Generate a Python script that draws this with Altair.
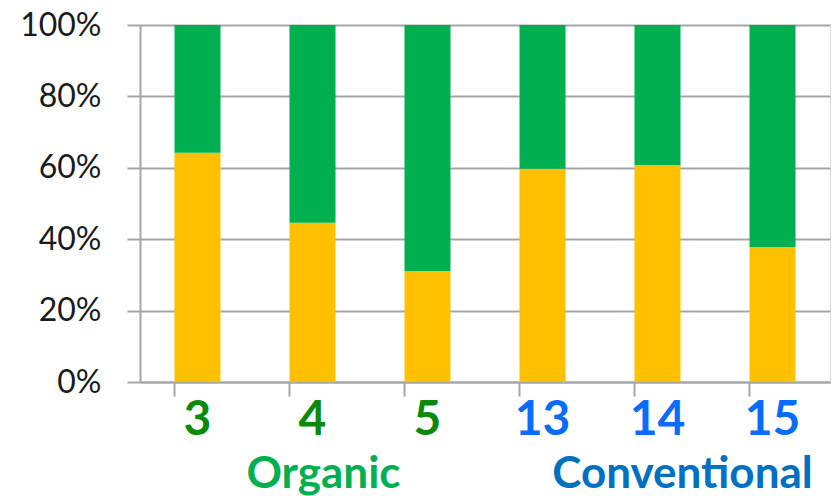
import altair as alt
import pandas as pd

samples = ["3", "4", "5", "13", "14", "15"]
orange_share = [64.2, 44.6, 31.1, 59.7, 60.8, 37.8]
green_share = [35.8, 55.4, 68.9, 40.3, 39.2, 62.2]
groups = ["Organic", "Conventional"]
group_anchor = ["4", "14"]
group_colors = ["#00B050", "#0070C0"]

rows = []
for s, o, g in zip(samples, orange_share, green_share):
    rows.append({"sample": s, "part": "a", "value": o})
    rows.append({"sample": s, "part": "b", "value": g})
df = pd.DataFrame(rows)

grid = "#A6A6A6"
font = "Lato"

xscale = alt.Scale(domain=samples, paddingInner=0.6, paddingOuter=0.3)

bars = alt.Chart(df).mark_bar().encode(
    x=alt.X("sample:N", scale=xscale, sort=samples, title=None,
            axis=alt.Axis(labelAngle=0, labelFont=font, labelFontSize=48,
                          labelFontWeight="bold",
                          labelColor={"condition": {"test": "indexof(['3','4','5'], datum.value) >= 0",
                                                    "value": "#0A8A0A"},
                                      "value": "#0A6CFF"},
                          tickSize=14, tickColor=grid, tickWidth=2,
                          domainColor=grid, domainWidth=2, labelPadding=0,
                          bandPosition=0, grid=False)),
    y=alt.Y("value:Q", stack="normalize", title=None,
            scale=alt.Scale(domain=[0, 1]),
            axis=alt.Axis(format="%", values=[0, 0.2, 0.4, 0.6, 0.8, 1.0],
                          labelFont=font, labelFontSize=32, labelColor="#1a1a1a",
                          tickSize=13, tickColor=grid, tickWidth=2,
                          domainColor=grid, domainWidth=2, labelPadding=26,
                          gridColor=grid, gridWidth=2)),
    color=alt.Color("part:N", scale=alt.Scale(domain=["a", "b"], range=["#FFC000", "#00B050"]),
                    legend=None),
    order=alt.Order("part:N", sort="ascending"),
)

gdf = pd.DataFrame({"group": groups, "anchor": group_anchor, "color": group_colors})

base = alt.Chart(gdf).encode(
    x=alt.X("anchor:N", scale=xscale, sort=samples, bandPosition=0.5),
    y=alt.value(450),
    text="group:N",
    color=alt.Color("color:N", scale=None),
)

org = base.transform_filter("datum.group == 'Organic'").mark_text(
    font=font, fontSize=44, fontWeight="bold", baseline="middle", align="center", dx=11)
conv = base.transform_filter("datum.group == 'Conventional'").mark_text(
    font=font, fontSize=44, fontWeight="bold", baseline="middle", align="center", dx=25)

chart = alt.layer(bars, org, conv).properties(
    width=690, height=357,
    autosize=alt.AutoSizeParams(type="none"),
    padding={"left": 140, "top": 25, "right": 6, "bottom": 114},
).configure_view(stroke=None, clip=False).configure(background="white")

chart.save("out.html", embed_options={"renderer": "svg", "actions": False})
